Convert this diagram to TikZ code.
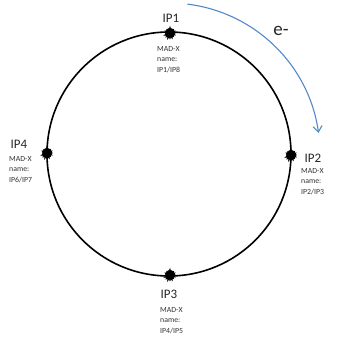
\documentclass[tikz,border=0pt]{standalone}
\usepackage{fontspec}
\setmainfont{Carlito}
\usetikzlibrary{shapes.symbols,arrows.meta}
\definecolor{arcblue}{RGB}{84,136,200}
\tikzset{
  ipstar/.style={starburst, starburst points=16, starburst point height=2.6pt, fill=black, draw=black, line width=0.6pt, inner sep=0pt, minimum size=13pt, random starburst=7,
    append after command={\pgfextra{\fill[black] (\tikzlastnode.center) circle[radius=4.2];}}},
  iplabel/.style={inner sep=0pt, font=\fontsize{13}{13}\selectfont, text=black!85},
  madx/.style={inner sep=0pt, anchor=north west, align=left, font=\fontsize{7.8}{10.5}\selectfont, text=black!80},
}
\begin{document}
\begin{tikzpicture}[x=1pt,y=-1pt]
\useasboundingbox (0,0) rectangle (339,339);
\coordinate (c) at (169,154);
\draw[line width=1.6pt] (c) circle[radius=122];
\node[ipstar] (s1) at (170,33) {};
\node[ipstar] (s2) at (291,155) {};
\node[ipstar] (s3) at (170,275) {};
\node[ipstar] (s4) at (47,153) {};
\node[iplabel] (l1) at (171,18) {IP1};
\node[iplabel] (l2) at (313,158) {IP2};
\node[iplabel] (l3) at (169,294) {IP3};
\node[iplabel] (l4) at (19,144) {IP4};
\node[madx] (m1) at (157,46) {MAD-X\\name:\\IP1/IP8};
\node[madx] (m2) at (301,168) {MAD-X\\name:\\IP2/IP3};
\node[madx] (m3) at (160,307) {MAD-X\\name:\\IP4/IP5};
\node[madx] (m4) at (9,156) {MAD-X\\name:\\IP6/IP7};
\path (c) ++(-83:151) coordinate (as);
\draw[arcblue, line width=1.1pt, -{Straight Barb[length=6pt,width=9pt,line width=1.1pt]}]
  (as) arc[start angle=-83, end angle=-8, radius=151] coordinate (ae);
\node[inner sep=0pt, font=\fontsize{19}{19}\selectfont, text=black!85] (e) at (281,31) {e-};
\end{tikzpicture}
\end{document}
